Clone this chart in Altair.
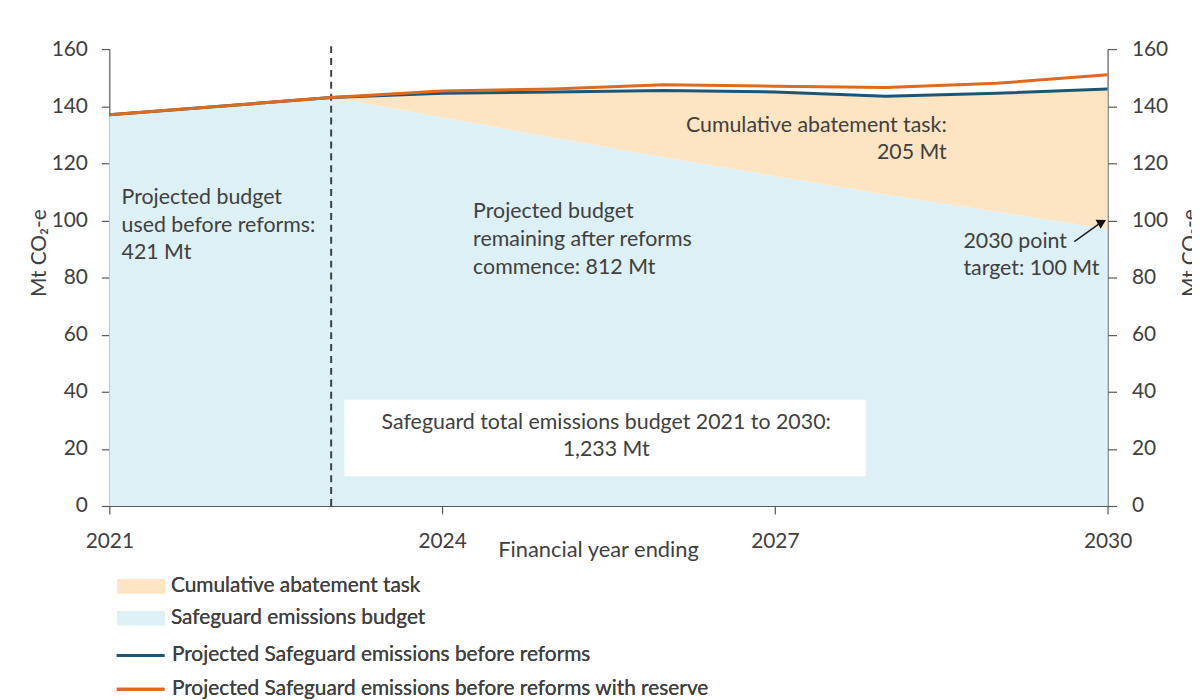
import altair as alt
import pandas as pd

# ---- data ----
years = [2021, 2022, 2023, 2024, 2025, 2026, 2027, 2028, 2029, 2030]
emissions_before = [137, 140, 143, 144.5, 145, 145.5, 145, 143.5, 144.5, 146]
emissions_reserve = [137, 140, 143, 145.3, 146, 147.5, 147, 146.5, 148, 151]
budget = [137, 140, 143, 136, 129, 122, 115.5, 109, 103, 97]
reform_year = 2023

x_tick_values = [2021, 2024, 2027, 2030]
y_tick_values = [0, 20, 40, 60, 80, 100, 120, 140, 160]

area_series = ["Cumulative abatement task", "Safeguard emissions budget"]
line_series = ["Projected Safeguard emissions before reforms",
               "Projected Safeguard emissions before reforms with reserve"]

# annotation texts, anchored in data units
left_note = ["Projected budget", "used before reforms:", "421 Mt"]
mid_note = ["Projected budget", "remaining after reforms", "commence: 812 Mt"]
abate_note = ["Cumulative abatement task:", "205 Mt"]
target_note = ["2030 point", "target: 100 Mt"]
box_note = ["Safeguard total emissions budget 2021 to 2030:", "1,233 Mt"]

FONT = "Lato"
TXT = "#404040"
AX = "#595959"
PEACH = "#FDE5C4"
LIGHTBLUE = "#DDF0F5"
NAVY = "#1D5574"
ORANGE = "#DC6A1F"

# ---- tables ----
budget_df = pd.DataFrame({"year": years, "value": budget, "series": area_series[1]})
i0 = years.index(reform_year)
abate_df = pd.DataFrame({
    "year": years[i0:], "value": budget[i0:], "high": emissions_before[i0:],
    "series": area_series[0]})
lines_before = pd.DataFrame({"year": years, "value": emissions_before, "series": line_series[0]})
lines_reserve = pd.DataFrame({"year": years, "value": emissions_reserve, "series": line_series[1]})

def rows(lines, x, y0, step):
    return pd.DataFrame({"year": [x] * len(lines),
                         "value": [y0 - k * step for k in range(len(lines))],
                         "text": lines})

left_df = pd.concat([rows(left_note, 2021.11, 107.8, 9.6),
                     rows(mid_note, 2024.28, 103.0, 9.8),
                     rows(target_note, 2028.70, 92.5, 9.4)])
right_df = rows(abate_note, 2028.55, 133.2, 9.7)
center_df = rows(box_note, 2025.48, 29.2, 9.7)
box_df = pd.DataFrame({"year": [2023.12], "year2": [2027.82], "value": [10.4], "value2": [37.2]})
rule_df = pd.DataFrame({"year": [reform_year], "value": [0], "value2": [161]})
arrow_df = pd.DataFrame({"year": [2029.70, 2029.92], "value": [92.6, 98.7]})
head_df = pd.DataFrame({"year": [2029.95], "value": [99.4]})

# ---- encodings ----
x_scale = alt.Scale(domain=[2021, 2030], nice=False, zero=False)
y_scale = alt.Scale(domain=[0, 160], nice=False)

x_axis = alt.Axis(values=x_tick_values, format="d", title="Financial year ending",
                  labelFlush=False, labelOverlap=False, tickSize=8, labelPadding=17,
                  grid=False, titleX=492, titleY=44, titleAlign="center",
                  titleBaseline="middle", titleFontSize=22)
X = alt.X("year:Q", scale=x_scale, axis=x_axis)

def Y(field="value", axis=None):
    return alt.Y(f"{field}:Q", scale=y_scale, stack=None, axis=axis)

left_axis = alt.Axis(orient="left", values=y_tick_values, title="Mt CO₂-e", grid=False,
                     tickSize=8, labelPadding=14, titleX=-70, titleY=205,
                     titleAngle=270, titleAlign="center", titleBaseline="middle")
right_axis = alt.Axis(orient="right", values=y_tick_values, title="Mt CO₂-e", grid=False,
                      tickSize=9, labelPadding=15, titleX=84, titleY=205,
                      titleAngle=270, titleAlign="center", titleBaseline="middle")

legend_common = dict(title=None, orient="none", labelFontSize=21, labelFont=FONT,
                     labelColor=TXT, labelFontWeight=400, labelLimit=900,
                     rowPadding=10, labelOffset=6, padding=0, symbolSize=576)

fill_enc = alt.Fill("series:N",
                    scale=alt.Scale(domain=area_series, range=[PEACH, LIGHTBLUE]),
                    legend=alt.Legend(legendX=32, legendY=529,
                                      symbolType="M-3,-0.6L1,-0.6L1,0.6L-3,0.6Z",
                                      symbolStrokeWidth=0, symbolOpacity=1,
                                      **legend_common))
stroke_enc = alt.Stroke("series:N",
                        scale=alt.Scale(domain=line_series, range=[NAVY, ORANGE]),
                        legend=alt.Legend(legendX=30, legendY=597,
                                          symbolType="M-3,0L1,0",
                                          symbolStrokeWidth=3, **legend_common))

budget_area = alt.Chart(budget_df).mark_area(opacity=1).encode(x=X, y=Y(), fill=fill_enc)
abate_area = alt.Chart(abate_df).mark_area(opacity=1).encode(
    x=X, y=Y(), y2="high:Q", fill=fill_enc)

box = alt.Chart(box_df).mark_rect(fill="white").encode(
    x=X, x2="year2:Q", y=Y(), y2="value2:Q")

rule = alt.Chart(rule_df).mark_rule(color="#404040", strokeWidth=2, strokeDash=[7, 5]).encode(
    x=X, y=Y(), y2="value2:Q")

line_before = alt.Chart(lines_before).mark_line(strokeWidth=3).encode(
    x=X, y=Y(axis=left_axis), stroke=stroke_enc)
line_reserve = alt.Chart(lines_reserve).mark_line(strokeWidth=3).encode(
    x=X, y=Y(axis=right_axis), stroke=stroke_enc)

txt_kw = dict(font=FONT, fontSize=21.5, color=TXT, baseline="middle")
text_left = alt.Chart(left_df).mark_text(align="left", **txt_kw).encode(
    x=X, y=Y(), text="text:N")
text_right = alt.Chart(right_df).mark_text(align="right", **txt_kw).encode(
    x=X, y=Y(), text="text:N")
text_center = alt.Chart(center_df).mark_text(align="center", **txt_kw).encode(
    x=X, y=Y(), text="text:N")

arrow = alt.Chart(arrow_df).mark_line(color="#202020", strokeWidth=1.5).encode(x=X, y=Y())
head = alt.Chart(head_df).mark_point(shape="triangle-up", filled=True, color="#111111",
                                     size=110, angle=61, opacity=1).encode(x=X, y=Y())

chart = alt.layer(
    budget_area, abate_area, box, rule, line_before, line_reserve,
    text_left, text_right, text_center, arrow, head
).resolve_scale(
    y="shared", x="shared", fill="independent", stroke="independent"
).resolve_axis(
    y="independent"
).properties(
    width=1005, height=460,
    autosize=alt.AutoSizeParams(type="none"),
    padding={"left": 102, "top": 39, "right": 85, "bottom": 193},
    background="white",
).configure_view(
    stroke=None
).configure_legend(
    labelFontWeight=400
).configure_axis(
    labelFont=FONT, titleFont=FONT, labelFontSize=21, titleFontSize=21,
    labelColor=TXT, titleColor=TXT, titleFontWeight="normal",
    domainColor=AX, tickColor=AX, domainWidth=1.2, tickWidth=1.2
)

chart.save("out.html", embed_options={"renderer": "svg", "actions": False})
